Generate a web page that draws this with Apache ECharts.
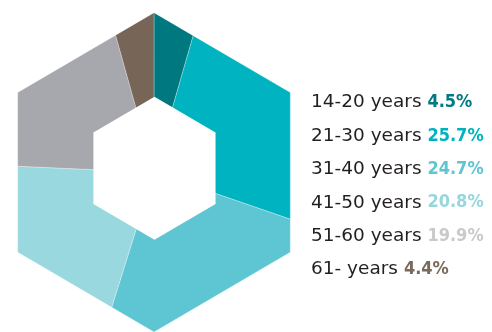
<!DOCTYPE html>
<html>
<head>
<meta charset="utf-8">
<script src="https://cdn.jsdelivr.net/npm/echarts@6/dist/echarts.min.js"></script>
<style>
  html, body { margin: 0; padding: 0; background: #fff; }
  #chart { width: 492px; height: 332px; }
</style>
</head>
<body>
<div id="chart"></div>
<script>
// Age distribution shown as a hexagonal ring
const ageGroups = ['14-20 years', '21-30 years', '31-40 years', '41-50 years', '51-60 years', '61- years'];
const shares = [4.5, 25.7, 24.7, 20.8, 19.9, 4.4];

const sliceColors = ['#00787f', '#00b3c0', '#5ec6d2', '#9ad8df', '#a7a8ad', '#776557'];
const valueColors = ['#007a82', '#00b3c0', '#5ec6d2', '#96d6de', '#c9c9cc', '#7a6a5c'];

// hole in the middle (data space, outer hexagon has radius 1)
const HOLE = { cx: 0.003, cy: 0.026, r: 0.448 };
const COS30 = Math.cos(Math.PI / 6);

// point on a pointy-top hexagon boundary, angle in degrees clockwise from top
function hexPoint(deg, R, cx, cy) {
  const k = Math.floor(deg / 60);
  const apothemDir = 30 + 60 * k;
  const r = (R * COS30) / Math.cos((deg - apothemDir) * Math.PI / 180);
  const t = deg * Math.PI / 180;
  return [cx + r * Math.sin(t), cy + r * Math.cos(t)];
}

// cumulative start / end of each share, in percent
const bounds = [];
let acc = 0;
shares.forEach(v => { bounds.push([acc, acc + v]); acc += v; });

function sliceRenderer(color) {
  return function (params, api) {
    const a0 = api.value(0) / 100 * 360;
    const a1 = api.value(1) / 100 * 360;
    const pts = [[0, 0], hexPoint(a0, 1, 0, 0)];
    for (let v = 0; v <= 360; v += 60) {
      if (v > a0 && v < a1) pts.push(hexPoint(v === 360 ? 359.9999 : v, 1, 0, 0));
    }
    pts.push(hexPoint(Math.min(a1, 359.9999), 1, 0, 0));
    return {
      type: 'polygon',
      shape: { points: pts.map(p => api.coord(p)) },
      style: { fill: color, stroke: 'rgba(255,255,255,0.55)', lineWidth: 0.5 }
    };
  };
}

const series = ageGroups.map((name, i) => ({
  name: name,
  type: 'custom',
  coordinateSystem: 'cartesian2d',
  itemStyle: { color: sliceColors[i] },
  data: [bounds[i]],
  renderItem: sliceRenderer(sliceColors[i]),
  silent: true,
  z: 2
}));

series.push({
  name: 'hole',
  type: 'custom',
  coordinateSystem: 'cartesian2d',
  data: [[0]],
  silent: true,
  z: 5,
  renderItem: function (params, api) {
    const pts = [];
    for (let v = 0; v < 360; v += 60) {
      const t = v * Math.PI / 180;
      pts.push(api.coord([HOLE.cx + HOLE.r * Math.sin(t), HOLE.cy + HOLE.r * Math.cos(t)]));
    }
    return { type: 'polygon', shape: { points: pts }, style: { fill: '#ffffff' } };
  }
});

const rich = { n: { fontFamily: 'DejaVu Sans', fontSize: 18.5, color: '#231f20', lineHeight: 20 } };
valueColors.forEach((c, i) => {
  rich['p' + i] = {
    fontFamily: "'DejaVu Sans Condensed', 'DejaVu Sans'",
    fontWeight: 'bold',
    fontSize: 18,
    color: c,
    lineHeight: 20
  };
});

const chart = echarts.init(document.getElementById('chart'), null, { renderer: 'canvas' });
chart.setOption({
  animation: false,
  backgroundColor: '#ffffff',
  grid: { left: 17.7, top: 12.7, width: 272.6, height: 323.6, containLabel: false },
  xAxis: { type: 'value', min: -COS30, max: COS30, show: false },
  yAxis: { type: 'value', min: -1, max: 1, show: false },
  legend: {
    data: ageGroups,
    orient: 'vertical',
    left: 301,
    top: 88,
    icon: 'none',
    itemWidth: 0,
    itemHeight: 14,
    itemGap: 14.4,
    selectedMode: false,
    textStyle: { fontFamily: 'DejaVu Sans', fontSize: 18.5, color: '#231f20', rich: rich },
    formatter: function (name) {
      const i = ageGroups.indexOf(name);
      return '{n|' + name + '} {p' + i + '|' + shares[i].toFixed(1) + '%}';
    }
  },
  series: series
});
</script>
</body>
</html>
